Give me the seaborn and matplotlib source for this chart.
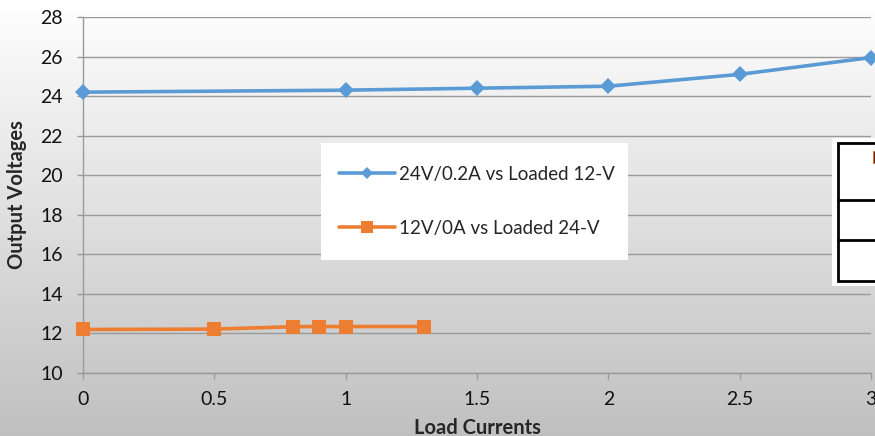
import numpy as np
import pandas as pd
import matplotlib
matplotlib.use("Agg")
import matplotlib.pyplot as plt
import seaborn as sns
from matplotlib.patches import Rectangle
from matplotlib.lines import Line2D

# ---- data ----
blue_label = "24V/0.2A vs Loaded 12-V"
blue_x = [0, 1, 1.5, 2, 2.5, 3]
blue_y = [24.2, 24.3, 24.4, 24.5, 25.1, 25.95]

orange_label = "12V/0A vs Loaded 24-V"
orange_x = [0, 0.5, 0.8, 0.9, 1.0, 1.3]
orange_y = [12.2, 12.22, 12.34, 12.35, 12.35, 12.35]

x_ticks = [0, 0.5, 1, 1.5, 2, 2.5, 3]
x_tick_labels = ["0", "0.5", "1", "1.5", "2", "2.5", "3"]
y_ticks = [10, 12, 14, 16, 18, 20, 22, 24, 26, 28]
x_title = "Load Currents"
y_title = "Output Voltages"

sns.set_style("white")
plt.rcParams["font.family"] = ["Lato", "DejaVu Sans"]

W, H = 875, 436
fig = plt.figure(figsize=(W / 100, H / 100), dpi=100)

# background gradient
bg = fig.add_axes([0, 0, 1, 1], zorder=-10)
grad = np.linspace(255, 192, 256).reshape(-1, 1) / 255.0
bg.imshow(np.dstack([grad, grad, grad]), aspect="auto", extent=[0, 1, 0, 1])
bg.axis("off")

def fx(px):
    return px / W

def fy(py):
    return 1 - py / H

ax = fig.add_axes([fx(83), fy(373), fx(871) - fx(83), fy(17) - fy(373)])
ax.set_facecolor("none")

blue_df = pd.DataFrame({"x": blue_x, "y": blue_y})
orange_df = pd.DataFrame({"x": orange_x, "y": orange_y})

blue_c = "#5B9BD5"
orange_c = "#ED7D31"

sns.lineplot(data=blue_df, x="x", y="y", ax=ax, color=blue_c, lw=2.6,
             marker="D", markersize=8.5, markeredgewidth=0, clip_on=False, zorder=5)
sns.lineplot(data=orange_df, x="x", y="y", ax=ax, color=orange_c, lw=2.6,
             marker="s", markersize=10, markeredgewidth=0, clip_on=False, zorder=5)

ax.set_xlim(0, 3)
ax.set_ylim(10, 28)
ax.set_xticks(x_ticks)
ax.set_xticklabels(x_tick_labels)
ax.set_yticks(y_ticks)
ax.set_yticklabels([str(v) for v in y_ticks])

grid_c = "#9a9a9a"
ax.grid(axis="y", color=grid_c, lw=1.0)
ax.grid(axis="x", visible=False)
ax.set_axisbelow(True)
for s in ["top", "right"]:
    ax.spines[s].set_visible(False)
ax.spines["left"].set_color(grid_c)
ax.spines["bottom"].set_color(grid_c)
ax.spines["left"].set_linewidth(1.0)
ax.spines["bottom"].set_linewidth(1.0)

ax.tick_params(axis="y", direction="out", length=4.3, width=1.0, color=grid_c,
               labelsize=14, pad=10, left=True, labelcolor="#111111")
ax.tick_params(axis="x", direction="out", length=4.3, width=1.0, color=grid_c,
               labelsize=14, pad=9, bottom=True, labelcolor="#111111")

ax.set_xlabel(x_title, fontsize=14.5, fontweight="bold")
ax.set_ylabel(y_title, fontsize=14.5, fontweight="bold")
ax.xaxis.set_label_coords(0.5, -0.125)
ax.yaxis.set_label_coords(-0.071, 0.5)

# legend box
fig.patches.append(Rectangle((fx(321), fy(260)), fx(628) - fx(321), fy(143) - fy(260),
                             transform=fig.transFigure, facecolor="white",
                             edgecolor="none", zorder=6))
handles = [Line2D([0], [0], color=blue_c, lw=2.6, marker="D", markersize=6, markeredgewidth=0),
           Line2D([0], [0], color=orange_c, lw=2.6, marker="s", markersize=8, markeredgewidth=0)]
leg = fig.legend(handles, [blue_label, orange_label], loc="upper left",
                 bbox_to_anchor=(fx(324), fy(151)), frameon=False, fontsize=13.5,
                 handlelength=3.0, handletextpad=0.22, labelspacing=1.95,
                 borderpad=0.3)
leg.set_zorder(7)

# partially visible table at right edge
fig.patches.append(Rectangle((fx(832), fy(286)), fx(880) - fx(832), fy(138) - fy(286),
                             transform=fig.transFigure, facecolor="white",
                             edgecolor="none", zorder=8))
fig.patches.append(Rectangle((fx(838), fy(281)), fx(890) - fx(838), fy(143) - fy(281),
                             transform=fig.transFigure, facecolor="white",
                             edgecolor="black", lw=2.0, zorder=9))
for yy in [200, 240]:
    fig.lines.append(Line2D([fx(838), fx(880)], [fy(yy), fy(yy)],
                            transform=fig.transFigure, color="black", lw=2.0, zorder=10))
fig.patches.append(Rectangle((fx(873), fy(163)), fx(880) - fx(873), fy(151) - fy(163),
                             transform=fig.transFigure, facecolor="#6b1e0c",
                             edgecolor="#c77a3a", lw=0.6, zorder=10))

fig.savefig("out.png", dpi=100)
